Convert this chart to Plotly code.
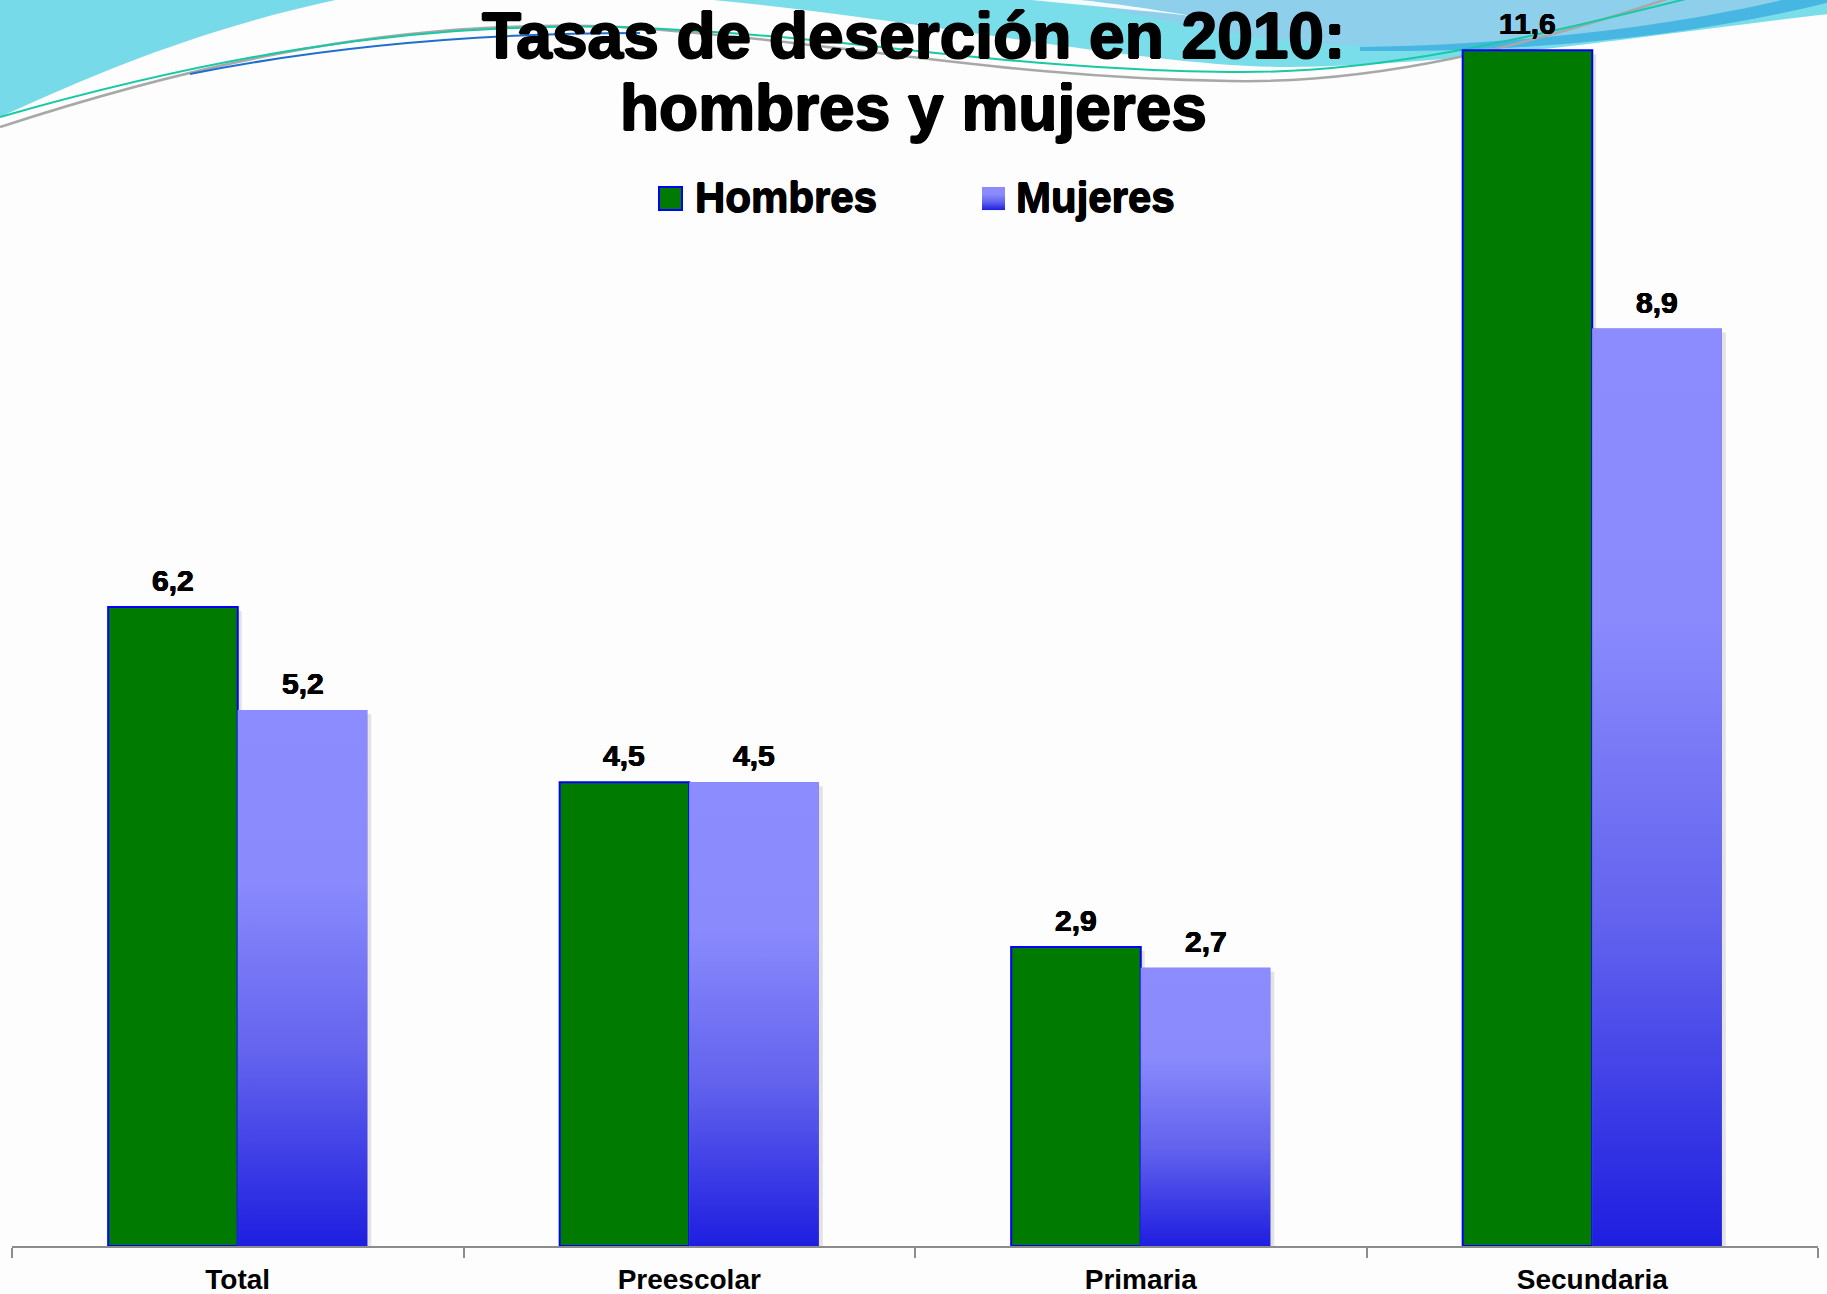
import plotly.graph_objects as go

# ---------------- data ----------------
categories = ["Total", "Preescolar", "Primaria", "Secundaria"]
hombres = [6.2, 4.5, 2.9, 11.6]
mujeres = [5.2, 4.5, 2.7, 8.9]
series_names = ["Hombres", "Mujeres"]
title_lines = ["Tasas de deserción en 2010:", "hombres y mujeres"]

# ---------------- styles ----------------
W, H = 1827, 1294
SX0, SX1, SY0, SY1 = 12, 1818, 9, 1246          # plot area in pixels
ML, MR, MT, MB = SX0, W - SX1, SY0, H - SY1
FONT = "Liberation Sans, Arial, Helvetica, sans-serif"
GREEN = "#007A00"
OUTLINE = "#0000FF"
GRAD = [[0.0, "#1E1EE0"], [0.35, "#6262EE"], [0.68, "#8A8AFD"], [1.0, "#8C8CFF"]]
BAR_W = 0.287
SHADOW_DX = 4 / ((SX1 - SX0) / len(categories))
SHADOW_DY = 4 / ((SY1 - SY0) / 12)


def emb(px):
    return ",".join(f"{dx}px {dy}px 0 #000" for dx, dy in
                    [(px, 0), (-px, 0), (0, px), (0, -px)])


def pxx(x):
    return (x - SX0) / (SX1 - SX0)


def pxy(y):
    return (SY1 - y) / (SY1 - SY0)


def mkpath(tokens):
    out = []
    for t in tokens:
        if isinstance(t, str):
            out.append(t)
        else:
            out.append(f"{pxx(t[0]):.5f},{pxy(t[1]):.5f}")
    return " ".join(out)


def hex2rgb(h):
    h = h.lstrip("#")
    return [int(h[i:i + 2], 16) for i in (0, 2, 4)]


def grad_color(f):
    for (a, ca), (b, cb) in zip(GRAD[:-1], GRAD[1:]):
        if a <= f <= b:
            t = (f - a) / (b - a) if b > a else 0
            c1, c2 = hex2rgb(ca), hex2rgb(cb)
            c = [round(c1[k] + (c2[k] - c1[k]) * t) for k in range(3)]
            return "rgb({},{},{})".format(*c)
    return GRAD[-1][1]


def fmt(v):
    return f"{v:.1f}".replace(".", ",")


idx = list(range(len(categories)))

fig = go.Figure()

# soft shadows behind the bars
fig.add_trace(go.Bar(
    x=idx, y=[v - SHADOW_DY for v in hombres], width=BAR_W, offset=-BAR_W + SHADOW_DX,
    marker=dict(color="rgba(0,0,0,0.10)", line=dict(width=0)),
    showlegend=False, hoverinfo="skip",
))
fig.add_trace(go.Bar(
    x=idx, y=[v - SHADOW_DY for v in mujeres], width=BAR_W, offset=SHADOW_DX,
    marker=dict(color="rgba(0,0,0,0.10)", line=dict(width=0)),
    showlegend=False, hoverinfo="skip",
))

fig.add_trace(go.Bar(
    name=series_names[0], x=idx, y=hombres, width=BAR_W, offset=-BAR_W,
    marker=dict(color=GREEN, line=dict(color=OUTLINE, width=2)),
    showlegend=False, hovertemplate="%{y}<extra>Hombres</extra>",
))
fig.add_trace(go.Bar(
    name=series_names[1], x=idx, y=mujeres, width=BAR_W, offset=0,
    marker=dict(color="#6262EE", line=dict(width=0)),
    showlegend=False, hovertemplate="%{y}<extra>Mujeres</extra>",
))
# gradient fill for the Mujeres bars
for i, v in zip(idx, mujeres):
    fig.add_trace(go.Scatter(
        x=[i, i + BAR_W, i + BAR_W, i, i], y=[0, 0, v, v, 0],
        mode="lines", line=dict(width=0), fill="toself",
        fillgradient=dict(type="vertical", colorscale=GRAD, start=0, stop=v),
        showlegend=False, hoverinfo="skip",
    ))

# ---------------- decoration shapes ----------------
shapes = []
def deco(tokens, fill=None, line_color=None, lw=0):
    shapes.append(dict(
        type="path", xref="paper", yref="paper", layer="below",
        path=mkpath(tokens),
        fillcolor=fill if fill else "rgba(0,0,0,0)",
        line=dict(color=line_color if line_color else "rgba(0,0,0,0)", width=lw),
    ))

deco(["M", (-2, -2), "L", (-2, 118), "C", (70, 85), (190, 30), (345, -2), "Z"], fill="#76DAE9")
deco(["M", (690, -2), "C", (900, 15), (1150, 68), (1290, 67), "C", (1480, 64), (1680, 30), (1830, 14),
      "L", (1830, -2), "Z"], fill="#7ADDEA")
deco(["M", (1050, -2), "C", (1120, 10), (1200, 30), (1300, 42), "C", (1380, 49), (1440, 47), (1480, 45),
      "C", (1600, 36), (1720, 15), (1790, -2), "Z"], fill="#8ECFEB")
deco(["M", (1012, -2), "C", (1080, 5), (1140, 10), (1192, 16), "C", (1140, 7), (1095, 1), (1060, -2), "Z"],
     fill="#F4FBFD")
deco(["M", (1360, 47), "C", (1550, 44), (1700, 20), (1790, -2), "L", (1830, -2), "L", (1830, 2),
      "C", (1720, 30), (1560, 53), (1360, 51), "Z"], fill="#48B6E2")
deco(["M", (0, 127), "C", (200, 62), (400, 18), (620, 27), "C", (850, 42), (1000, 78), (1230, 81),
      "C", (1380, 84), (1530, 45), (1670, -2)], line_color="#A8A8A8", lw=2.5)
deco(["M", (0, 117), "C", (200, 60), (400, 22), (620, 27), "C", (850, 35), (1000, 70), (1230, 72),
      "C", (1380, 74), (1520, 40), (1690, -2)], line_color="#19C9A4", lw=2)
deco(["M", (190, 74), "C", (320, 48), (470, 33), (640, 33)], line_color="#1E6FD0", lw=2)

# ---------------- custom legend ----------------
shapes.append(dict(type="rect", xref="paper", yref="paper", layer="above",
                   x0=pxx(659), x1=pxx(682), y0=pxy(210), y1=pxy(187),
                   fillcolor=GREEN, line=dict(color=OUTLINE, width=2)))
NSTRIP = 23
for k in range(NSTRIP):
    y_top = 187 + k
    f = 1 - (k + 0.5) / NSTRIP
    shapes.append(dict(type="rect", xref="paper", yref="paper", layer="above",
                       x0=pxx(982), x1=pxx(1005), y0=pxy(y_top + 1.05), y1=pxy(y_top),
                       fillcolor=grad_color(f), line=dict(width=0)))

annotations = []
for name, xl in zip(series_names, [693, 1014]):
    annotations.append(dict(text=name, xref="paper", yref="paper", x=pxx(xl), y=pxy(198),
                            xanchor="left", yanchor="middle", showarrow=False,
                            font=dict(family=FONT, size=42, color="black", weight="bold",
                                      shadow=emb(0.6))))

# title lines
for line, yc in zip(title_lines, [36, 108]):
    annotations.append(dict(text=line, xref="paper", yref="paper", x=pxx(913), y=pxy(yc),
                            xanchor="center", yanchor="middle", showarrow=False,
                            font=dict(family=FONT, size=64, color="black", weight="bold",
                                      shadow=emb(1))))

# value labels
for vals, sign in [(hombres, -1), (mujeres, 1)]:
    for i, v in zip(idx, vals):
        annotations.append(dict(text=fmt(v), x=i + sign * BAR_W / 2, y=v, xref="x", yref="y",
                                xanchor="center", yanchor="bottom", yshift=8, showarrow=False,
                                font=dict(family=FONT, size=30, color="black", weight="bold",
                                          shadow=emb(0.4))))

fig.update_layout(
    width=W, height=H, autosize=False,
    margin=dict(l=ML, r=MR, t=MT, b=MB, pad=0, autoexpand=False),
    paper_bgcolor="#FDFDFD", plot_bgcolor="rgba(0,0,0,0)",
    barmode="overlay",
    showlegend=False,
    shapes=shapes,
    annotations=annotations,
    xaxis=dict(
        range=[-0.5, len(categories) - 0.5],
        tickmode="array", tickvals=idx, ticktext=categories,
        ticks="", showgrid=False, zeroline=False, automargin=False,
        showline=True, linecolor="#8C8C8C", linewidth=2,
        tickfont=dict(family=FONT, size=28, color="black", weight="bold"),
        ticklabelstandoff=7,
        minor=dict(tickmode="array", tickvals=[k - 0.5 for k in range(len(categories) + 1)],
                   ticks="outside", ticklen=10, tickcolor="#8C8C8C", tickwidth=1.5, showgrid=False),
        fixedrange=True,
    ),
    yaxis=dict(range=[0, 12], visible=False, showgrid=False, zeroline=False,
               automargin=False, fixedrange=True),
)

post = ("document.documentElement.style.margin='0';document.body.style.margin='0';"
        "document.body.style.padding='0';document.documentElement.style.overflow='hidden';")

fig.write_html("out.html", post_script=post, config={"displayModeBar": False, "responsive": False})
